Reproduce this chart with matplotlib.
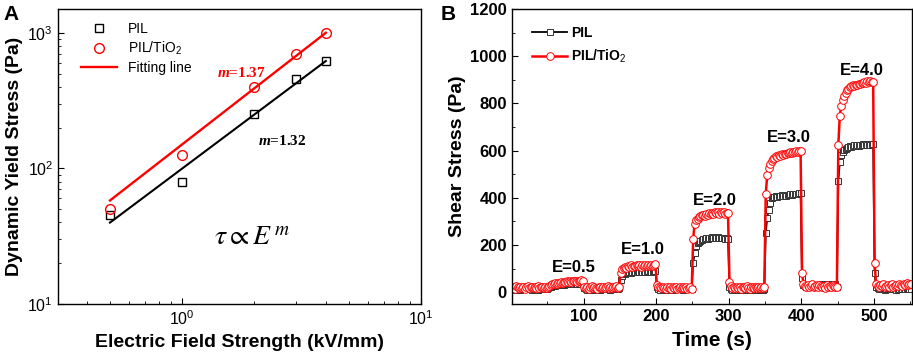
import numpy as np
import matplotlib
matplotlib.use('Agg')
import matplotlib.pyplot as plt
import matplotlib.ticker as ticker

plt.rcParams['font.family'] = ['Liberation Sans', 'DejaVu Sans']
plt.rcParams['mathtext.fontset'] = 'custom'
plt.rcParams['mathtext.rm'] = 'Liberation Sans'
plt.rcParams['mathtext.it'] = 'Liberation Serif:italic:bold'
plt.rcParams['mathtext.bf'] = 'Liberation Sans:bold'

# ---- panel A: yield stress vs field ----
field = [0.5, 1.0, 2.0, 3.0, 4.0]
yield_pil = [45, 80, 250, 460, 620]
yield_tio2 = [50, 125, 400, 700, 1000]
# fitting lines tau = k * E^m
fit_pil = (99.5, 1.32)
fit_tio2 = (150.0, 1.37)

# ---- panel B: shear stress vs time (every 2 s, t = 1..551) ----
t = np.arange(1, 552, 2)
shear_tio2 = [
    18, 22, 15, 25, 20, 17, 24, 19, 22, 14, 21, 26, 18, 20, 23, 16, 22, 19, 25, 17, 21, 24, 18, 20, 18,
    22, 27, 30, 33, 35, 37, 36, 40, 38, 42, 41, 44, 42, 46, 44, 47, 45, 49, 46, 48, 45, 49, 47, 50, 46,
    24, 18, 23, 15, 21, 25, 17, 22, 19, 14, 24, 20, 18, 23, 16, 21, 26, 19, 22, 17, 24, 20, 25, 19, 22,
    80, 98, 103, 108, 104, 111, 107, 114, 106, 112, 109, 115, 110, 114, 108, 116, 111, 115, 109, 117, 112, 116, 113, 117, 118,
    30, 22, 20, 16, 23, 18, 14, 21, 19, 24, 15, 20, 17, 22, 13, 19, 23, 16, 20, 18, 21, 15, 19, 22, 15,
    225, 290, 305, 312, 318, 322, 325, 328, 324, 332, 329, 335, 331, 337, 333, 339, 334, 338, 332, 340, 335, 338, 333, 337, 335,
    45, 25, 19, 23, 16, 21, 18, 24, 15, 20, 22, 17, 25, 19, 14, 21, 23, 18, 20, 16, 24, 19, 22, 17, 20,
    415, 495, 525, 545, 558, 565, 570, 575, 572, 580, 578, 584, 581, 587, 585, 590, 588, 594, 590, 596, 592, 598, 595, 600, 598,
    80, 35, 28, 24, 30, 21, 27, 33, 22, 26, 29, 20, 31, 25, 23, 28, 19, 32, 24, 27, 21, 30, 25, 23, 20,
    625, 745, 790, 815, 830, 845, 855, 862, 868, 872, 876, 874, 880, 878, 884, 882, 888, 885, 891, 888, 894, 890, 896, 892, 890,
    125, 35, 28, 22, 30, 25, 33, 20, 27, 31, 24, 29, 35, 23, 28, 32, 26, 36, 30, 25, 34, 29, 37, 31, 35,
    35,
]
shear_pil = [
    15, 12, 17, 10, 14, 18, 11, 16, 13, 15, 19, 12, 14, 17, 10, 15, 13, 18, 11, 16, 14, 12, 17, 13, 15,
    16, 20, 22, 25, 27, 28, 30, 29, 32, 31, 33, 32, 34, 33, 35, 34, 36, 33, 35, 34, 36, 35, 34, 36, 35,
    18, 14, 11, 16, 13, 17, 10, 15, 12, 18, 14, 11, 16, 13, 15, 12, 17, 14, 10, 16, 13, 15, 18, 12, 16,
    50, 68, 75, 78, 80, 82, 84, 83, 86, 85, 87, 84, 88, 86, 89, 87, 88, 86, 90, 88, 89, 87, 90, 88, 90,
    20, 14, 11, 16, 13, 17, 10, 15, 12, 18, 14, 11, 16, 13, 15, 12, 17, 14, 10, 16, 13, 15, 18, 12, 15,
    125, 165, 195, 207, 213, 218, 222, 225, 224, 228, 226, 230, 228, 232, 229, 233, 230, 232, 229, 231, 228, 230, 227, 229, 225,
    20, 12, 9, 14, 11, 15, 8, 13, 10, 16, 12, 9, 14, 11, 13, 10, 15, 12, 8, 14, 11, 13, 16, 10, 14,
    250, 315, 350, 380, 398, 403, 405, 407, 404, 409, 406, 410, 408, 412, 409, 413, 411, 415, 412, 417, 414, 418, 416, 420, 420,
    60, 30, 26, 22, 28, 24, 30, 25, 27, 23, 29, 26, 31, 27, 33, 29, 32, 30, 34, 31, 35, 33, 36, 35, 20,
    470, 550, 580, 595, 603, 608, 612, 615, 618, 616, 620, 622, 619, 624, 621, 625, 623, 626, 622, 627, 624, 628, 625, 629, 628,
    80, 20, 16, 12, 17, 14, 18, 11, 15, 13, 19, 12, 16, 14, 17, 11, 15, 13, 18, 12, 16, 14, 17, 13, 15,
    15,
]
steps = ['E=0.5', 'E=1.0', 'E=2.0', 'E=3.0', 'E=4.0']
step_xy = [(87, 103), (182, 179), (281, 387), (383, 655), (483, 941)]

fig = plt.figure(figsize=(9.13, 3.57), dpi=100)
ax1 = fig.add_axes([0.0635, 0.1485, 0.3976, 0.8263])
ax2 = fig.add_axes([0.5605, 0.1485, 0.438, 0.8263])

# panel A
ax1.set_xscale('log')
ax1.set_yscale('log')
ax1.plot(field, yield_pil, ls='none', marker='s', ms=6, mfc='none', mec='black', mew=1.0, label='PIL')
ax1.plot(field, yield_tio2, ls='none', marker='o', ms=7, mfc='none', mec='red', mew=1.0, label='PIL/TiO$_2$')
xf = np.array([field[0], field[-1]])
ax1.plot(xf, fit_pil[0] * xf ** fit_pil[1], color='black', lw=1.5)
ax1.plot(xf, fit_tio2[0] * xf ** fit_tio2[1], color='red', lw=1.7, label='Fitting line')
ax1.set_xlim(0.303, 10)
ax1.set_ylim(10, 1500)
ax1.tick_params(axis='both', which='both', direction='in', labelsize=11.5)
ax1.tick_params(which='major', length=4)
ax1.tick_params(which='minor', length=2)
ax1.set_xlabel('Electric Field Strength (kV/mm)', fontsize=14, fontweight='bold', labelpad=5)
ax1.set_ylabel('Dynamic Yield Stress (Pa)', fontsize=14, fontweight='bold', labelpad=3)
ax1.legend(loc='upper left', frameon=False, fontsize=10, handlelength=2.6, borderaxespad=0.2,
           bbox_to_anchor=(0.04, 0.985), labelspacing=0.3)
ax1.text(1.40, 508, '$m$=1.37', color='red', fontsize=11, fontweight='bold',
         family='Liberation Serif', ha='left', va='center')
ax1.text(2.08, 158, '$m$=1.32', color='black', fontsize=11, fontweight='bold',
         family='Liberation Serif', ha='left', va='center')
ax1.text(0.534, 0.224, r'$\tau \propto E^{\,m}$', transform=ax1.transAxes, fontsize=20,
         math_fontfamily='stix', ha='center', va='center')

# panel B
ax2.plot(t, shear_pil, color='black', lw=1.3, marker='s', ms=4.5, mfc='white', mec='#333333',
         mew=0.7, label='PIL')
ax2.plot(t, shear_tio2, color='red', lw=1.8, marker='o', ms=5.5, mfc='white', mec='red',
         mew=0.7, label='PIL/TiO$_2$')
for lab, (xx, yy) in zip(steps, step_xy):
    ax2.text(xx, yy, lab, fontsize=12, fontweight='bold', ha='center', va='center')
ax2.set_xlim(1, 552)
ax2.set_ylim(-50, 1200)
ax2.xaxis.set_major_locator(ticker.FixedLocator([100, 200, 300, 400, 500]))
ax2.xaxis.set_minor_locator(ticker.MultipleLocator(50))
ax2.yaxis.set_major_locator(ticker.MultipleLocator(200))
ax2.yaxis.set_minor_locator(ticker.MultipleLocator(100))
ax2.tick_params(axis='both', which='both', direction='in', labelsize=12)
ax2.tick_params(which='major', length=4)
ax2.tick_params(which='minor', length=2.5)
for lbl in ax2.get_xticklabels() + ax2.get_yticklabels():
    lbl.set_fontweight('bold')
ax2.set_xlabel('Time (s)', fontsize=15, fontweight='bold', labelpad=5)
ax2.set_ylabel('Shear Stress (Pa)', fontsize=14, fontweight='bold', labelpad=3)
leg = ax2.legend(loc='upper left', frameon=False, prop={'weight': 'bold', 'size': 10},
                 handlelength=2.5, handletextpad=0.3, borderaxespad=0.5, labelspacing=0.6,
                 bbox_to_anchor=(0.02, 0.985))

for ax in (ax1, ax2):
    for sp in ax.spines.values():
        sp.set_linewidth(1.0)

fig.text(0.004, 0.985, 'A', fontsize=15, fontweight='bold', va='top')
fig.text(0.483, 0.985, 'B', fontsize=15, fontweight='bold', va='top')

fig.savefig('out.png', dpi=100)
